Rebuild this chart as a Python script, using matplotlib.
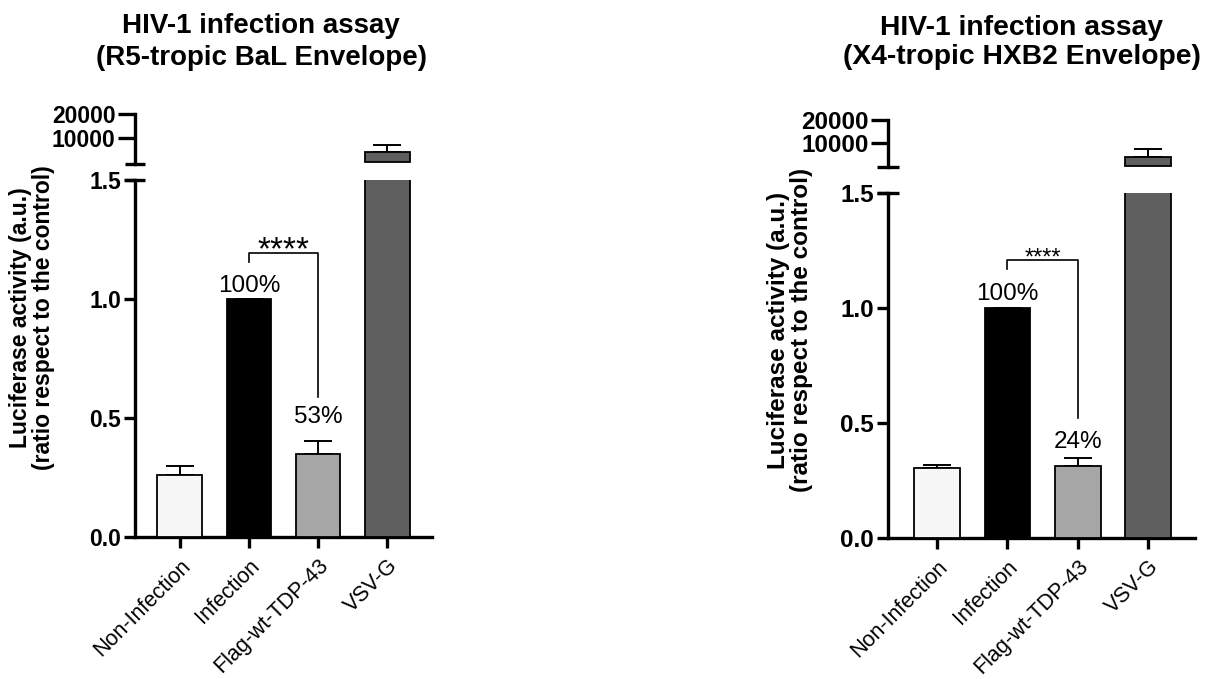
import matplotlib
matplotlib.use('Agg')
import matplotlib.pyplot as plt
import numpy as np

plt.rcParams['font.family'] = ['Liberation Sans', 'DejaVu Sans']

# 조건별 값 (평균, 위쪽 오차)
categories = ['Non-Infection', 'Infection', 'Flag-wt-TDP-43', 'VSV-G']
bar_colors = ['#F7F7F7', '#000000', '#A6A6A6', '#5F5F5F']

bal_means = [0.26, 1.0, 0.35, 4300]
bal_err = [0.04, 0.0, 0.055, 2900]
hxb2_means = [0.305, 1.0, 0.315, 3900]
hxb2_err = [0.013, 0.0, 0.035, 3500]

bal_pct = ['100%', '53%']
hxb2_pct = ['100%', '24%']

LOW_MAX = 1.5

W, H = 1206, 679
fig = plt.figure(figsize=(W / 100, H / 100), dpi=100)


def px_axes(x0, x1, y0, y1):
    # 픽셀 좌표(위쪽 기준)로 축 생성
    return fig.add_axes([x0 / W, 1 - y1 / H, (x1 - x0) / W, (y1 - y0) / H])


def style_spine(ax, fs, tick_len):
    for s in ['top', 'right']:
        ax.spines[s].set_visible(False)
    for s in ['left', 'bottom']:
        ax.spines[s].set_linewidth(2.4)
    ax.tick_params(axis='y', direction='out', length=tick_len, width=2.4,
                   labelsize=fs, pad=2)
    for lab in ax.get_yticklabels():
        lab.set_fontweight('bold')


def bars(ax, x, means, errs):
    ax.bar(x, means, width=0.65, color=[bar_colors[i] for i in x],
           edgecolor='black', linewidth=1.3, zorder=3)
    yerr = np.array([np.zeros(len(errs)), errs])
    ax.errorbar(x, means, yerr=yerr, fmt='none', ecolor='black',
                elinewidth=1.4, capsize=10, capthick=1.4, zorder=2)


def draw_panel(means, errs, pct, lo_box, hi_box, xlim, top_ylim, fs,
               star_size, bracket, star_y, pct_y):
    x = np.arange(len(categories))
    means = np.array(means)
    errs = np.array(errs)
    lo = px_axes(*lo_box)
    hi = px_axes(*hi_box)

    bars(lo, x, means, errs)
    big = means > LOW_MAX
    bars(hi, x[big], means[big], errs[big])
    for ax in (lo, hi):
        ax.set_xlim(*xlim)

    # 아래 축: 0 ~ 1.5
    lo.set_ylim(0, LOW_MAX)
    lo.set_yticks([0.0, 0.5, 1.0, 1.5])
    lo.set_yticklabels(['0.0', '0.5', '1.0', '1.5'])
    style_spine(lo, fs, 8)
    lo.set_xticks(x)
    lo.set_xticklabels(categories, rotation=45, ha='right',
                       rotation_mode='anchor', fontsize=15.5)
    lo.tick_params(axis='x', direction='out', length=8, width=2.4, pad=5)

    # 위 축: 큰 값 구간
    hi.set_ylim(*top_ylim)
    hi.set_yticks([10000, 20000])
    hi.set_yticklabels(['10000', '20000'])
    style_spine(hi, fs, 12)
    hi.spines['bottom'].set_visible(False)
    hi.set_xticks([])

    # 축 끊김 표시
    for ax, yy in ((lo, 1.0), (hi, 0.0)):
        ax.plot([-0.035, 0.035], [yy, yy], transform=ax.transAxes,
                color='black', lw=2.4, clip_on=False, solid_capstyle='butt')

    # 유의성 표시
    x1, x2 = x[1], x[2]
    left_bot, top, right_bot = bracket
    lo.plot([x1, x1, x2, x2], [left_bot, top, top, right_bot],
            color='black', lw=1.2, zorder=4)
    lo.text((x1 + x2) / 2, star_y, '****', ha='center', va='baseline',
            fontsize=star_size)
    lo.text(x[1], pct_y[0], pct[0], ha='center', va='baseline', fontsize=17.5)
    lo.text(x[2], pct_y[1], pct[1], ha='center', va='baseline', fontsize=17.5)
    return lo, hi


draw_panel(bal_means, bal_err, bal_pct,
           (135, 432, 180, 537), (135, 432, 114, 164),
           (-0.65, 3.65), (-800, 20000), 16.5, 24,
           (1.155, 1.193, 0.59), 1.168, (1.03, 0.479))

draw_panel(hxb2_means, hxb2_err, hxb2_pct,
           (888, 1195, 193, 538), (888, 1195, 120, 167),
           (-0.70, 3.67), (-450, 20000), 17.5, 17,
           (1.17, 1.21, 0.52), 1.189, (1.035, 0.391))

# 제목
titles = [
    (261, (33, 65), 20, ['HIV-1 infection assay', '(R5-tropic BaL Envelope)']),
    (1022, (35, 64), 20.3, ['HIV-1 infection assay', '(X4-tropic HXB2 Envelope)']),
]
for xc, ys, fs, lines in titles:
    for yb, line in zip(ys, lines):
        fig.text(xc / W, 1 - yb / H, line, ha='center', va='baseline',
                 fontsize=fs, fontweight='bold')

# y축 제목
ylab = 'Luciferase activity (a.u.)\n(ratio respect to the control)'
fig.text(32 / W, 1 - 318 / H, ylab, rotation=90, ha='center', va='center',
         fontsize=16.5, fontweight='bold', multialignment='center',
         linespacing=1.0)
fig.text(790 / W, 1 - 330 / H, ylab, rotation=90, ha='center', va='center',
         fontsize=17.5, fontweight='bold', multialignment='center',
         linespacing=1.0)

fig.savefig('out.png', dpi=100)
